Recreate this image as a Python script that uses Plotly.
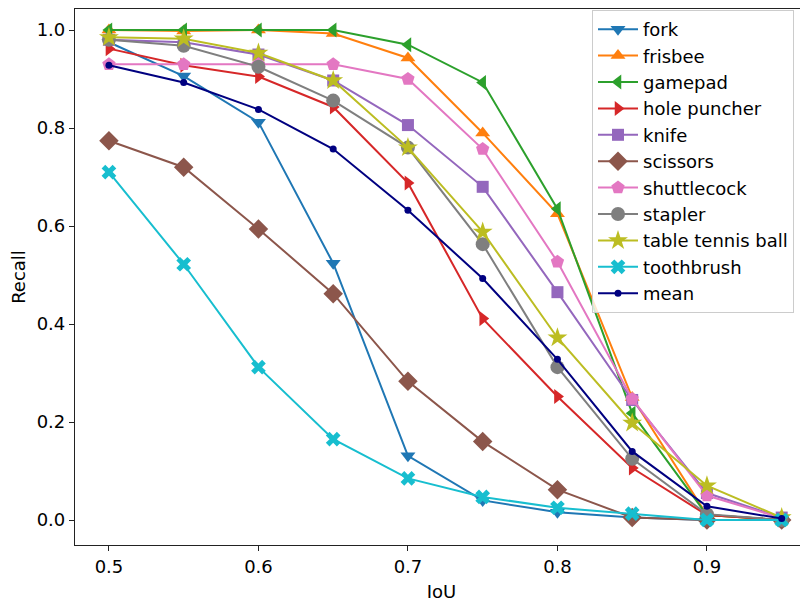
import plotly.graph_objects as go

iou = [0.5, 0.55, 0.6, 0.65, 0.7, 0.75, 0.8, 0.85, 0.9, 0.95]

fork = [0.975, 0.906, 0.812, 0.524, 0.131, 0.040, 0.016, 0.005, 0.0, 0.0]
frisbee = [1.0, 0.998, 1.0, 0.993, 0.943, 0.790, 0.625, 0.250, 0.010, 0.0]
gamepad = [1.0, 1.0, 1.0, 1.0, 0.970, 0.893, 0.635, 0.218, 0.010, 0.0]
hole_puncher = [0.962, 0.928, 0.905, 0.843, 0.688, 0.411, 0.252, 0.106, 0.010, 0.0]
knife = [0.980, 0.975, 0.950, 0.897, 0.806, 0.680, 0.465, 0.245, 0.055, 0.005]
scissors = [0.774, 0.720, 0.594, 0.462, 0.283, 0.160, 0.062, 0.005, 0.0, 0.0]
shuttlecock = [0.930, 0.930, 0.930, 0.930, 0.900, 0.757, 0.527, 0.247, 0.050, 0.004]
stapler = [0.980, 0.968, 0.925, 0.856, 0.760, 0.563, 0.312, 0.125, 0.012, 0.0]
table_tennis_ball = [0.985, 0.982, 0.953, 0.897, 0.760, 0.588, 0.372, 0.198, 0.070, 0.005]
toothbrush = [0.710, 0.522, 0.312, 0.165, 0.085, 0.047, 0.025, 0.013, 0.0, 0.0]
mean = [0.928, 0.893, 0.838, 0.757, 0.632, 0.493, 0.328, 0.140, 0.028, 0.003]

series = [
    ("fork", fork, "#1f77b4", "triangle-down", 13),
    ("frisbee", frisbee, "#ff7f0e", "triangle-up", 13),
    ("gamepad", gamepad, "#2ca02c", "triangle-left", 13),
    ("hole puncher", hole_puncher, "#d62728", "triangle-right", 13),
    ("knife", knife, "#9467bd", "square", 12),
    ("scissors", scissors, "#8c564b", "diamond", 15),
    ("shuttlecock", shuttlecock, "#e377c2", "pentagon", 14),
    ("stapler", stapler, "#7f7f7f", "circle", 14),
    ("table tennis ball", table_tennis_ball, "#bcbd22", "star", 15),
    ("toothbrush", toothbrush, "#17becf", "x", 13),
    ("mean", mean, "#000080", "circle", 7),
]

fig = go.Figure()
for name, vals, color, sym, size in series:
    fig.add_trace(go.Scatter(
        x=iou, y=vals, name=name, mode="lines+markers",
        line=dict(color=color, width=2),
        marker=dict(symbol=sym, size=size, color=color, line=dict(width=0)),
    ))

FS = 18
font = dict(family="DejaVu Sans", size=FS, color="black")
# page body adds an 8px offset; figure is sized to fill the rest of the window
W, H = 800, 598
L, R, T, B = 67, 0, 1, 61
plot_h = H - T - B
fig.update_layout(
    width=W, height=H,
    margin=dict(l=L, r=R, t=T, b=B, autoexpand=False),
    paper_bgcolor="white", plot_bgcolor="white",
    font=font,
    showlegend=True,
    legend=dict(
        x=(584 - L) / (W - L - R), y=(H - B - 2) / plot_h,
        xanchor="left", yanchor="top",
        bgcolor="rgba(255,255,255,0.8)", bordercolor="#cccccc", borderwidth=1,
        font=dict(family="DejaVu Sans", size=FS, color="black"),
        itemwidth=40,
    ),
    xaxis=dict(
        range=[0.4773, 0.9676], tickvals=[0.5, 0.6, 0.7, 0.8, 0.9],
        ticktext=["0.5", "0.6", "0.7", "0.8", "0.9"],
        showgrid=False, zeroline=False, automargin=False,
        showline=True, linecolor="#222222", linewidth=1.2, mirror=True,
        ticks="outside", ticklen=5, tickwidth=1, tickcolor="#222222",
        title=dict(text="IoU", standoff=9, font=dict(size=FS)),
    ),
    yaxis=dict(
        range=[-0.051, 1.0429], tickvals=[0.0, 0.2, 0.4, 0.6, 0.8, 1.0],
        ticktext=["0.0", "0.2", "0.4", "0.6", "0.8", "1.0"],
        showgrid=False, zeroline=False, automargin=False,
        showline=True, linecolor="#222222", linewidth=1.2,
        ticks="outside", ticklen=5, tickwidth=1, tickcolor="#222222",
        title=dict(text="Recall", standoff=11, font=dict(size=FS)),
    ),
)

fig.write_html("out.html")
